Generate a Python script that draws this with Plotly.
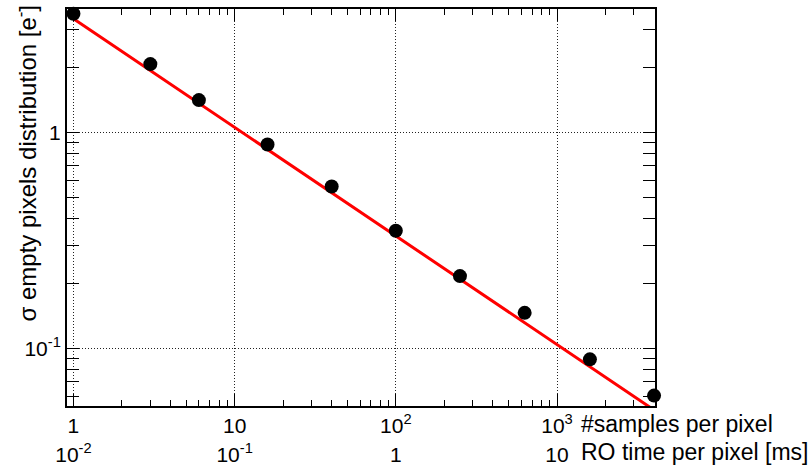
import numpy as np
import plotly.graph_objects as go

# Measured noise vs. number of samples per pixel
samples = [1, 3, 6, 16, 40, 100, 250, 630, 1600, 4000]
sigma = [3.54, 2.07, 1.41, 0.879, 0.561, 0.350, 0.216, 0.146, 0.0889, 0.0604]

# Power-law fit: sigma = A * N^k
fit_amp = 3.36
fit_exp = -0.503
fit_range = [1, 5000]

# Readout time per sample [ms]
ms_per_sample = 0.01

x_ticks = [1, 10, 100, 1000]
x_ticktext = ["1", "10", "10<sup>2</sup>", "10<sup>3</sup>"]
t_ticks = [0.01, 0.1, 1, 10]
t_ticktext = ["10<sup>-2</sup>", "10<sup>-1</sup>", "1", "10"]
y_ticks = [0.1, 1]
y_ticktext = ["10<sup>-1</sup>", "1"]

x_log_range = [-0.04, 3.608]
y_log_range = [-1.267, 0.571]

FONT = "Liberation Sans, Arial, Helvetica, sans-serif"
TICK_FS = 21
XTITLE_FS = 23
YTITLE_FS = 24

W, H = 811, 465
ML, MR, MT, MB = 67, 156, 9, 25
PW, PH = W - ML - MR, H - MT - MB


def px_x(px):
    return (px - ML) / PW


def px_y(py):
    return (H - MB - py) / PH


fit_x = np.logspace(np.log10(fit_range[0]), np.log10(fit_range[1]), 200)
fit_y = fit_amp * fit_x ** fit_exp


def minor_vals(lo, hi):
    vals = []
    for d in range(lo, hi + 1):
        for m in range(2, 10):
            vals.append(m * 10.0 ** d)
    return vals


fig = go.Figure()
fig.add_trace(go.Scatter(x=fit_x, y=fit_y, mode="lines",
                         line=dict(color="#ff0000", width=3),
                         showlegend=False, hoverinfo="skip"))
fig.add_trace(go.Scatter(x=samples, y=sigma, mode="markers",
                         marker=dict(color="black", size=14),
                         showlegend=False, cliponaxis=False))
# invisible trace carrying the readout-time axis
fig.add_trace(go.Scatter(x=[t_ticks[0]], y=[sigma[0]], xaxis="x2", mode="markers",
                         marker=dict(opacity=0), showlegend=False, hoverinfo="skip"))

axis_common = dict(
    type="log", showline=True, linecolor="black", linewidth=2, mirror="allticks",
    ticks="inside", ticklen=12, tickwidth=1, tickcolor="black",
    showgrid=True, gridcolor="#222222", gridwidth=1, griddash="1px,2px",
    zeroline=False, automargin=False,
    tickfont=dict(family=FONT, size=TICK_FS, color="black"),
)

fig.update_layout(
    width=W, height=H,
    margin=dict(l=ML, r=MR, t=MT, b=MB),
    paper_bgcolor="white", plot_bgcolor="white",
    font=dict(family=FONT, size=TICK_FS, color="black"),
    xaxis=dict(axis_common, range=x_log_range, tickmode="array",
               tickvals=x_ticks, ticktext=x_ticktext, ticklabelstandoff=0,
               minor=dict(tickvals=minor_vals(0, 3), ticks="inside", ticklen=6,
                          tickcolor="black", showgrid=False)),
    yaxis=dict(axis_common, range=y_log_range, tickmode="array",
               tickvals=y_ticks, ticktext=y_ticktext,
               domain=[px_y(406), 1],
               minor=dict(tickvals=minor_vals(-2, 0), ticks="inside", ticklen=6,
                          tickcolor="black", showgrid=False)),
    xaxis2=dict(type="log", overlaying="x", anchor="free", position=0, side="bottom",
                range=[v + np.log10(ms_per_sample) for v in x_log_range],
                tickmode="array", tickvals=t_ticks, ticktext=t_ticktext,
                showline=False, ticks="", showgrid=False, zeroline=False,
                automargin=False,
                tickfont=dict(family=FONT, size=TICK_FS, color="black")),
    annotations=[
        dict(text="σ empty pixels distribution [e<sup>-</sup>]", textangle=-90,
             xref="paper", yref="paper", x=px_x(25), y=px_y(3), xanchor="center",
             yanchor="top", showarrow=False, font=dict(family=FONT, size=YTITLE_FS)),
        dict(text="#samples per pixel", xref="paper", yref="paper",
             x=px_x(579), y=px_y(424), xanchor="left",
             yanchor="middle", showarrow=False, font=dict(family=FONT, size=XTITLE_FS)),
        dict(text="RO time per pixel [ms]", xref="paper", yref="paper",
             x=px_x(579), y=px_y(452), xanchor="left",
             yanchor="middle", showarrow=False, font=dict(family=FONT, size=XTITLE_FS)),
    ],
)

fig.write_html("out.html")
